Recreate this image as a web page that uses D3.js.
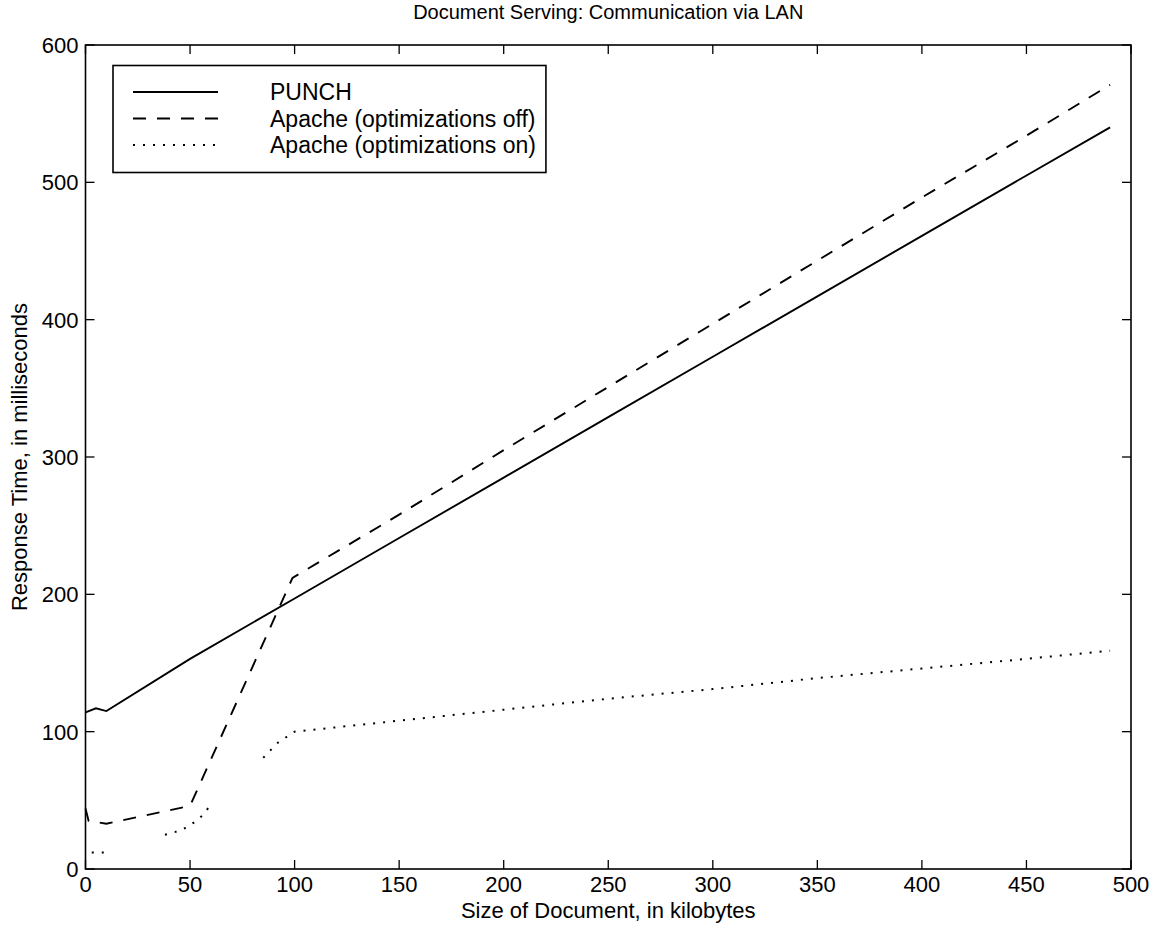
<!DOCTYPE html>
<html>
<head>
<meta charset="utf-8">
<script src="https://cdn.jsdelivr.net/npm/d3@7"></script>
<style>
  html, body { margin: 0; padding: 0; background: #fff; }
  svg text { font-family: "Liberation Sans", Arial, Helvetica, sans-serif; fill: #000; }
  .narrow { font-family: "Liberation Sans Narrow", "Liberation Sans", Arial, sans-serif; }
</style>
</head>
<body>
<div id="chart"></div>
<script>
// series data (x in kilobytes, y in ms)
const punchX = [0, 5, 10, 50, 100, 150, 200, 250, 300, 350, 400, 450, 490];
const punchY = [114, 117, 115, 153, 197, 241, 285, 329, 373, 417, 461, 505, 540];

const offX = [0, 1.5, 10, 50, 99, 150, 200, 250, 300, 350, 400, 450, 490];
const offY = [44, 35, 33, 46, 212, 258, 305, 351, 397, 443, 489, 534, 571];

// null = break in the dotted trace
const onX = [3, 10, 24, 38, 43, 48, 52, 56, 59, 72, 85, 92, 100, 150, 200, 250, 300, 350, 400, 450, 490];
const onY = [12, 12, null, 25, 27, 30, 34, 39, 45, null, 81, 92, 100, 108, 116, 124, 131, 139, 146, 153, 159];

const xTicks = [0, 50, 100, 150, 200, 250, 300, 350, 400, 450, 500];
const yTicks = [0, 100, 200, 300, 400, 500, 600];

const legendLabels = ["PUNCH", "Apache (optimizations off)", "Apache (optimizations on)"];
const dashes = [null, "13,11", "2,8"];

const W = 1165, H = 933;
const m = { left: 85.5, right: 1131, top: 45, bottom: 869 };

const x = d3.scaleLinear().domain([0, 500]).range([m.left, m.right]);
const y = d3.scaleLinear().domain([0, 600]).range([m.bottom, m.top]);

const svg = d3.select("#chart").append("svg")
  .attr("width", W).attr("height", H);

// frame
svg.append("rect")
  .attr("x", m.left).attr("y", m.top)
  .attr("width", m.right - m.left).attr("height", m.bottom - m.top)
  .attr("fill", "none").attr("stroke", "#000").attr("stroke-width", 1.6);

// ticks inward on all four sides
const tickLen = 9;
const g = svg.append("g").attr("stroke", "#000").attr("stroke-width", 1.3);
xTicks.forEach(t => {
  g.append("line").attr("x1", x(t)).attr("x2", x(t)).attr("y1", m.bottom).attr("y2", m.bottom - tickLen);
  g.append("line").attr("x1", x(t)).attr("x2", x(t)).attr("y1", m.top).attr("y2", m.top + tickLen);
});
yTicks.forEach(t => {
  g.append("line").attr("x1", m.left).attr("x2", m.left + tickLen).attr("y1", y(t)).attr("y2", y(t));
  g.append("line").attr("x1", m.right).attr("x2", m.right - tickLen).attr("y1", y(t)).attr("y2", y(t));
});

svg.selectAll("text.xt").data(xTicks).enter().append("text")
  .attr("class", "xt")
  .attr("x", d => x(d)).attr("y", m.bottom + 23)
  .attr("text-anchor", "middle")
  .style("font-size", "22px")
  .text(d => d);

svg.selectAll("text.yt").data(yTicks).enter().append("text")
  .attr("class", "yt")
  .attr("x", m.left - 7).attr("y", d => y(d) + 8)
  .attr("text-anchor", "end")
  .style("font-size", "22px")
  .text(d => d);

// titles
svg.append("text").attr("class", "narrow")
  .attr("x", (m.left + m.right) / 2).attr("y", 19)
  .attr("text-anchor", "middle").style("font-size", "20px")
  .text("Document Serving: Communication via LAN");

svg.append("text").attr("class", "narrow")
  .attr("x", (m.left + m.right) / 2).attr("y", 918)
  .attr("text-anchor", "middle").style("font-size", "22px")
  .text("Size of Document, in kilobytes");

svg.append("text").attr("class", "narrow")
  .attr("transform", `translate(27, ${(m.top + m.bottom) / 2}) rotate(-90)`)
  .attr("text-anchor", "middle").style("font-size", "22px")
  .text("Response Time, in milliseconds");

// lines
const line = d3.line()
  .defined(d => d[1] != null)
  .x(d => x(d[0])).y(d => y(d[1]));

const series = [
  d3.zip(punchX, punchY),
  d3.zip(offX, offY),
  d3.zip(onX, onY)
];

series.forEach((s, i) => {
  svg.append("path")
    .datum(s)
    .attr("d", line)
    .attr("fill", "none")
    .attr("stroke", "#000")
    .attr("stroke-width", i === 2 ? 2 : 1.9)
    .attr("stroke-dasharray", dashes[i]);
});

// legend
const lg = svg.append("g");
const box = lg.append("rect")
  .attr("x", 113).attr("y", 65.5)
  .attr("height", 107)
  .attr("fill", "#fff").attr("stroke", "#000").attr("stroke-width", 1.6);

let maxRight = 0;
legendLabels.forEach((lab, i) => {
  const ly = 92 + i * 26.5;
  lg.append("line")
    .attr("x1", 133).attr("x2", 218).attr("y1", ly).attr("y2", ly)
    .attr("stroke", "#000").attr("stroke-width", 1.9)
    .attr("stroke-dasharray", dashes[i]);
  const t = lg.append("text")
    .attr("x", 270).attr("y", ly + 8)
    .style("font-size", "23px")
    .text(lab);
  maxRight = Math.max(maxRight, 270 + t.node().getComputedTextLength());
});
box.attr("width", maxRight + 10 - 113);
</script>
</body>
</html>
